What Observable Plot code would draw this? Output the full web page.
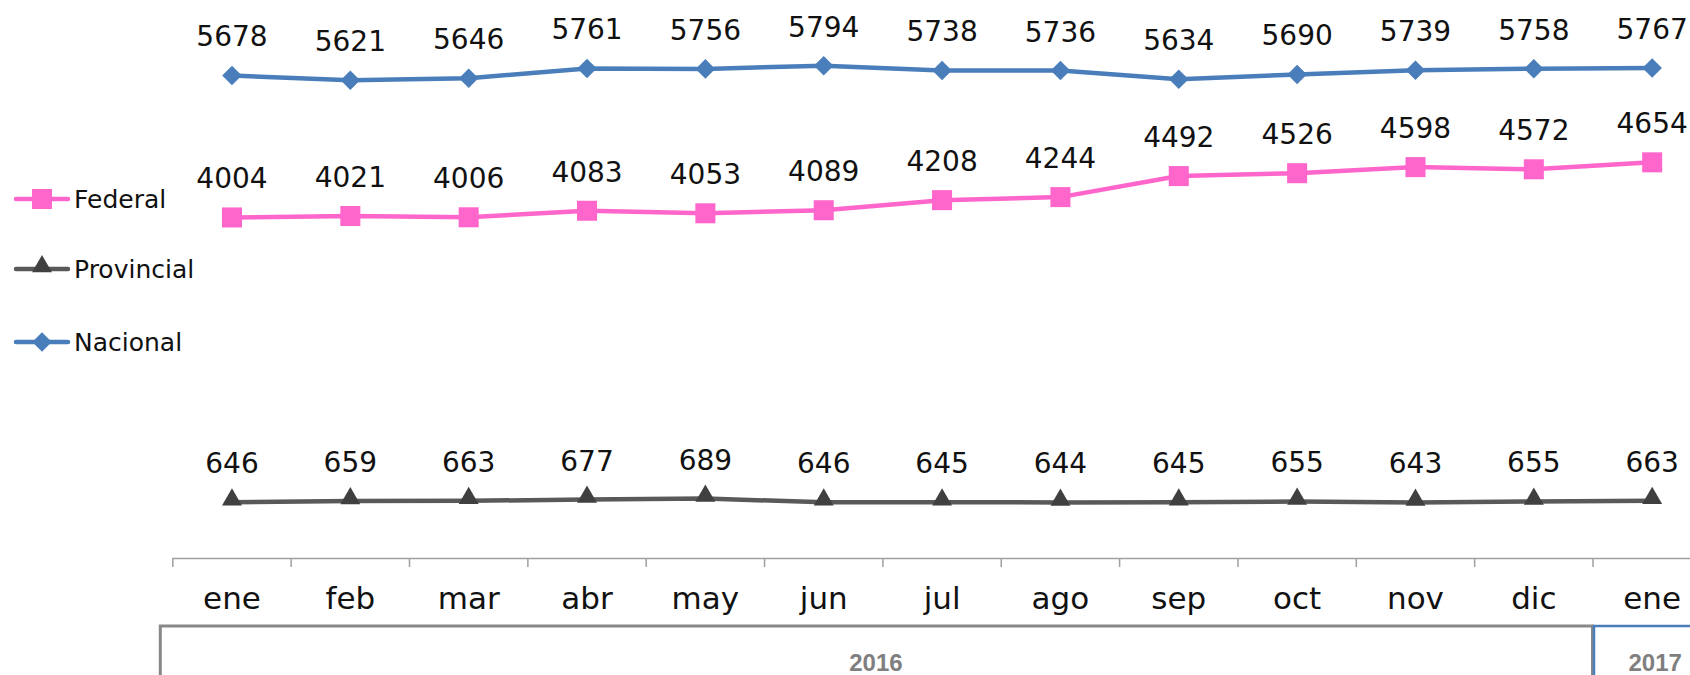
<!DOCTYPE html>
<html><head><meta charset="utf-8">
<script src="https://cdn.jsdelivr.net/npm/d3@7"></script>
<script src="https://cdn.jsdelivr.net/npm/@observablehq/plot@0.6"></script>
<style>
html,body{margin:0;padding:0;background:#fff;overflow:hidden;width:1690px;height:675px;}
#wrap{position:relative;width:1690px;height:675px;overflow:hidden;font-family:"DejaVu Sans",sans-serif;}
#wrap svg{display:block;overflow:hidden;}
#legend{position:absolute;left:0;top:0;width:260px;height:400px;}
</style></head><body><div id="wrap"></div><script>
const months = ["ene","feb","mar","abr","may","jun","jul","ago","sep","oct","nov","dic","ene"];
const nacional = [5678,5621,5646,5761,5756,5794,5738,5736,5634,5690,5739,5758,5767];
const federal = [4004,4021,4006,4083,4053,4089,4208,4244,4492,4526,4598,4572,4654];
const provincial = [646,659,663,677,689,646,645,644,645,655,643,655,663];
const years = ["2016","2017"];
const yearStart = [0,12];
const yearEnd = [11,12];
const seriesNames = ["Federal","Provincial","Nacional"];

const series = [
  {name:"Federal", values:federal, line:"#ff66cc", fill:"#ff66cc", symbol:"square", r:11.3, sdy:0},
  {name:"Provincial", values:provincial, line:"#595959", fill:"#404040", symbol:"triangle", r:7.4, sdy:-2.5},
  {name:"Nacional", values:nacional, line:"#4a7ebb", fill:"#4a7ebb", symbol:"diamond2", r:8.8, sdy:0}
];
const idx = months.map((_,i)=>i);
const boundaries = months.map((_,i)=>i-0.5).concat([months.length-0.5]);
const xScale = {type:"linear", domain:[-0.5, months.length-0.5], range:[172.3, 172.3+13*118.35]};
const k = 0.0848, y0 = 556.5;

const marks = [
  Plot.ruleY([0], {x1:-0.5, x2:months.length-0.5, stroke:"#a0a0a0", strokeWidth:1.5, dy:1.5}),
  Plot.axisX({ticks:boundaries, tickSize:9, tickFormat:()=>"", stroke:"#a0a0a0", strokeWidth:1.5, label:null}),
  Plot.text(idx, {x:d=>d, y:0, text:i=>months[i], dy:42, fontSize:31, fill:"#111", fontFamily:"DejaVu Sans"})
];
for (const s of series) {
  const rows = s.values.map((v,i)=>({i, v}));
  marks.push(Plot.line(rows, {x:"i", y:"v", stroke:s.line, strokeWidth:4.5, strokeLinejoin:"round", strokeLinecap:"round"}));
}
for (const s of series) {
  const rows = s.values.map((v,i)=>({i, v}));
  marks.push(Plot.dot(rows, {x:"i", y:"v", symbol:s.symbol, r:s.r, fill:s.fill, stroke:"none", dy:s.sdy}));
  marks.push(Plot.text(rows, {x:"i", y:"v", text:d=>String(d.v), dy:-38, fontSize:28, fill:"#111", fontFamily:"DejaVu Sans"}));
}

const main = Plot.plot({
  width:1690, height:620, marginTop:0, marginLeft:0, marginRight:0, marginBottom:62,
  x:xScale, y:{domain:[0,7000], range:[y0, y0-7000*k], axis:null},
  style:{fontFamily:"DejaVu Sans", background:"transparent"},
  marks
});

const yearRows = years.map((y,j)=>({year:y, x1:yearStart[j]-0.5, x2:yearEnd[j]+0.5}));
const band = Plot.plot({
  width:1690, height:70, marginTop:6, marginBottom:0, marginLeft:0, marginRight:0,
  x:Object.assign({}, xScale, {axis:null}),
  style:{background:"transparent"},
  marks:[
    Plot.rect([yearRows[0]], {x1:"x1", x2:"x2", insetLeft:-12, stroke:"#888", strokeWidth:3, fill:"none"}),
    Plot.rect([yearRows[1]], {x1:"x1", x2:"x2", insetLeft:1.5, insetRight:-14, stroke:"#4a7ebb", strokeWidth:2.5, fill:"none"}),
    Plot.text([yearRows[0]], {x:d=>(d.x1+d.x2)/2, text:"year", frameAnchor:"top", dy:27, dx:-7, fontWeight:"bold", fill:"#7f7f7f", fontFamily:"Liberation Sans", fontSize:24}),
    Plot.text([yearRows[1]], {x:d=>(d.x1+d.x2)/2, text:"year", frameAnchor:"top", dy:27, dx:3, fontWeight:"bold", fill:"#7f7f7f", fontFamily:"Liberation Sans", fontSize:24})
  ]
});

const wrap = document.getElementById("wrap");
wrap.appendChild(main);
wrap.appendChild(band);

// legend
const legendY = {Federal:199, Provincial:269, Nacional:342};
const ns = "http://www.w3.org/2000/svg";
const leg = document.createElementNS(ns, "svg");
leg.setAttribute("id","legend"); leg.setAttribute("width","260"); leg.setAttribute("height","400");
const symMap = {square:d3.symbolSquare, triangle:d3.symbolTriangle, diamond2:d3.symbolDiamond2};
for (const name of seriesNames) {
  const s = series.find(t=>t.name===name);
  const yy = legendY[name];
  const ln = document.createElementNS(ns,"line");
  ln.setAttribute("x1",16); ln.setAttribute("x2",68); ln.setAttribute("y1",yy); ln.setAttribute("y2",yy);
  ln.setAttribute("stroke", s.line); ln.setAttribute("stroke-width",4.5); ln.setAttribute("stroke-linecap","round");
  leg.appendChild(ln);
  const p = document.createElementNS(ns,"path");
  p.setAttribute("d", d3.symbol(symMap[s.symbol], Math.PI*s.r*s.r)());
  p.setAttribute("transform", `translate(42,${yy + s.sdy})`);
  p.setAttribute("fill", s.fill);
  leg.appendChild(p);
  const t = document.createElementNS(ns,"text");
  t.setAttribute("x",74); t.setAttribute("y",yy); t.setAttribute("dy","0.35em");
  t.setAttribute("font-size",25); t.setAttribute("font-family","DejaVu Sans"); t.setAttribute("fill","#111");
  t.textContent = name;
  leg.appendChild(t);
}
wrap.appendChild(leg);
</script></body></html>
